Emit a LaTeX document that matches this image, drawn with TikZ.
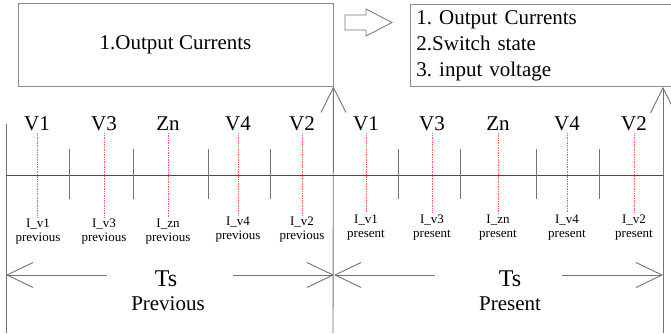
\documentclass[tikz,border=0pt]{standalone}
\usepackage{fontspec}
\setmainfont{Liberation Serif}
\usetikzlibrary{arrows.meta,positioning,calc}
\tikzset{
  infobox/.style={rectangle,draw=black!45,line width=0.9pt,inner sep=0pt},
  hollowarrow/.style={draw=black!55,line width=0.8pt},
  frameline/.style={draw=black!55,line width=0.9pt},
  axisline/.style={draw=black!70,line width=0.8pt},
  tickline/.style={draw=black!55,line width=1pt},
  probe/.style={draw=red!65,densely dotted,line width=0.7pt},
  vlabel/.style={font=\fontsize{21}{24}\selectfont,inner sep=2pt},
  ilabel/.style={font=\fontsize{13}{14}\selectfont,align=center,inner sep=2pt},
  tslabel/.style={font=\fontsize{24}{26}\selectfont,inner sep=0pt,anchor=base},
  periodlabel/.style={font=\fontsize{21}{24}\selectfont,inner sep=0pt,anchor=base},
  barbline/.style={-{Straight Barb[length=25pt,width=25pt]},draw=black!55,line width=0.9pt},
  dimarrow/.style={-{Straight Barb[length=26pt,width=25pt]},draw=black!55,line width=0.9pt},
}
\frenchspacing

\begin{document}
\begin{tikzpicture}[x=1pt,y=-1pt]
  \useasboundingbox (0,0) rectangle (671,333);
  % stored data before / after the sample
  \node[infobox,minimum width=315pt,minimum height=83pt,
        font=\fontsize{21}{26}\selectfont] (outprev) at (175.5,44.5) {1.Output Currents};
  \node[infobox,anchor=north west,minimum height=82pt,text width=268pt,
        inner xsep=6pt,align=left,font=\fontsize{21}{26}\selectfont]
        (outpres) at (410,4) {1. Output Currents\\2.Switch state\\3. input voltage};
  \draw[hollowarrow] (345,15) -- (366,15) -- (366,9) -- (392,22.5) -- (366,36)
        -- (366,30) -- (345,30) -- cycle;

  % frame
  \coordinate (ltop) at (6,124);
  \coordinate (lbot) at (6,333);
  \coordinate (mbot) at (333,333);
  \coordinate (rbot) at (663,333);
  \draw[frameline] (ltop) -- (lbot);
  \draw[barbline] (mbot) -- (outprev.south east);
  \draw[barbline] (rbot) -- (rbot |- outpres.south);

  % time axis and sector borders
  \coordinate (axl) at (6,175);
  \coordinate (axr) at (663,175);
  \draw[axisline] (axl) -- (axr);
  \draw[tickline] (69,149) -- (69,199);
  \draw[tickline] (133,149) -- (133,199);
  \draw[tickline] (208,149) -- (208,199);
  \draw[tickline] (270,149) -- (270,199);
  \draw[tickline] (398,149) -- (398,199);
  \draw[tickline] (460,149) -- (460,199);
  \draw[tickline] (536,149) -- (536,199);
  \draw[tickline] (599,149) -- (599,199);

  % previous period
  \node[vlabel] (v1prev) at (37,124)  {V1};
  \node[vlabel] (v3prev) at (104,124) {V3};
  \node[vlabel] (znprev) at (168,124) {Zn};
  \node[vlabel] (v4prev) at (238,124) {V4};
  \node[vlabel] (v2prev) at (302,124) {V2};
  \node[ilabel] (iv1prev) at (38,232)  {I\_v1\\previous};
  \node[ilabel] (iv3prev) at (104,232) {I\_v3\\previous};
  \node[ilabel] (izprev)  at (168,232) {I\_zn\\previous};
  \node[ilabel] (iv4prev) at (238,230) {I\_v4\\previous};
  \node[ilabel] (iv2prev) at (302,230) {I\_v2\\previous};
  \draw[probe] (v1prev.south) -- (iv1prev.north -| v1prev.south);
  \draw[probe] (v3prev.south) -- (iv3prev.north -| v3prev.south);
  \draw[probe] (znprev.south) -- (izprev.north -| znprev.south);
  \draw[probe] (v4prev.south) -- (iv4prev.north -| v4prev.south);
  \draw[probe] (v2prev.south) -- (iv2prev.north -| v2prev.south);

  % present period
  \node[vlabel] (v1pres) at (366,124) {V1};
  \node[vlabel] (v3pres) at (432,124) {V3};
  \node[vlabel] (znpres) at (498,124) {Zn};
  \node[vlabel] (v4pres) at (567,124) {V4};
  \node[vlabel] (v2pres) at (634,124) {V2};
  \node[ilabel] (iv1pres) at (366,228) {I\_v1\\present};
  \node[ilabel] (iv3pres) at (432,228) {I\_v3\\present};
  \node[ilabel] (izpres)  at (498,228) {I\_zn\\present};
  \node[ilabel] (iv4pres) at (567,228) {I\_v4\\present};
  \node[ilabel] (iv2pres) at (634,228) {I\_v2\\present};
  \draw[probe] (v1pres.south) -- (iv1pres.north -| v1pres.south);
  \draw[probe] (v3pres.south) -- (iv3pres.north -| v3pres.south);
  \draw[probe] (znpres.south) -- (izpres.north -| znpres.south);
  \draw[probe] (v4pres.south) -- (iv4pres.north -| v4pres.south);
  \draw[probe] (v2pres.south) -- (iv2pres.north -| v2pres.south);

  % sample periods
  \node[tslabel] (tsprev) at (166,286) {Ts};
  \node[periodlabel] (prevtxt) at (168,310) {Previous};
  \node[tslabel] (tspres) at (510,286) {Ts};
  \node[periodlabel] (prestxt) at (510,310) {Present};
  \coordinate (pl) at (6,275);
  \coordinate (pm) at (334,275);
  \coordinate (pr) at (663,275);
  \coordinate (preva) at (107,275);
  \coordinate (prevb) at (233,275);
  \coordinate (presa) at (435,275);
  \coordinate (presb) at (562,275);
  \draw[dimarrow] (preva) -- (pl);
  \draw[dimarrow] (prevb) -- (pm);
  \draw[dimarrow] (presa) -- (pm);
  \draw[dimarrow] (presb) -- (pr);
\end{tikzpicture}
\end{document}
